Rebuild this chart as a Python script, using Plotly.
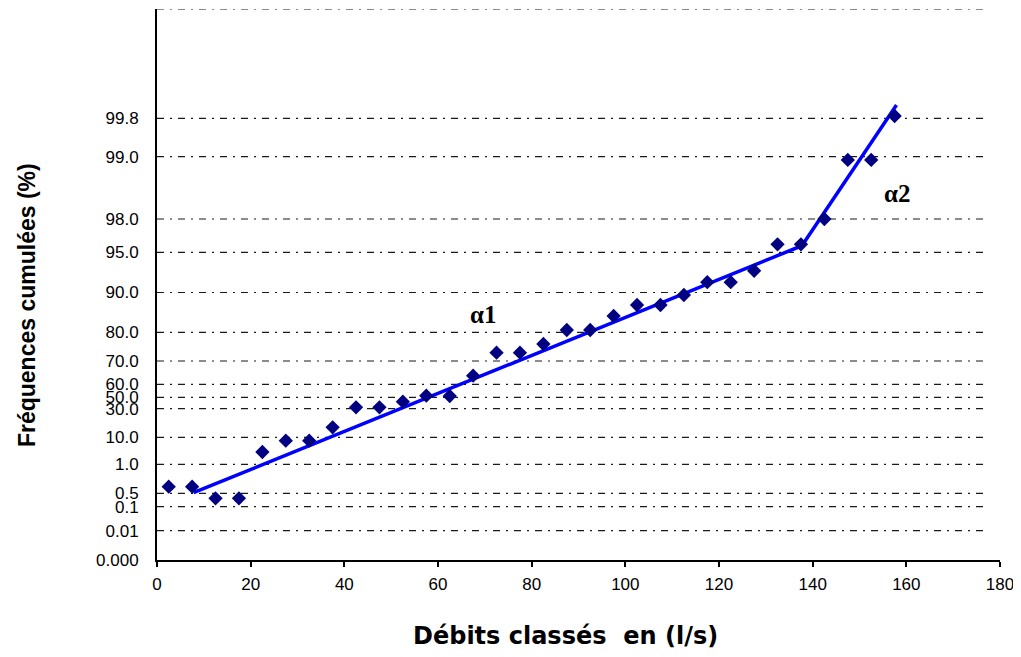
import plotly.graph_objects as go

# Class midpoints of flows (l/s)
debits = [2.5, 7.5, 12.5, 17.5, 22.5, 27.5, 32.5, 37.5, 42.5, 47.5, 52.5, 57.5,
          62.5, 67.5, 72.5, 77.5, 82.5, 87.5, 92.5, 97.5, 102.5, 107.5, 112.5,
          117.5, 122.5, 127.5, 132.5, 137.5, 142.5, 147.5, 152.5, 157.5]
# Position on the probability (reduced-variable) scale, 0-100 axis units
freq_reduite = [13.30, 13.30, 11.20, 11.20, 19.60, 21.65, 21.65, 24.08, 27.71, 27.71,
                28.73, 29.82, 29.76, 33.45, 37.62, 37.62, 39.20, 41.74, 41.74, 44.28,
                46.28, 46.28, 48.09, 50.42, 50.42, 52.50, 57.30, 57.30, 61.89, 72.60,
                72.60, 80.58]

# Two fitted straight segments (alpha1, alpha2)
fit_x = [7.8, 137.7, 157.9]
fit_y = [12.21, 57.04, 82.58]

# Probability-scale tick labels and their positions on the reduced axis
y_tick_labels = ["0.000", "0.01", "0.1", "0.5", "1.0", "10.0", "30.0", "50.0", "60.0",
                 "70.0", "80.0", "90.0", "95.0", "98.0", "99.0", "99.8", ""]
y_tick_pos = [0, 5.32, 9.67, 12.10, 17.37, 22.27, 27.46, 29.53, 31.89,
              36.12, 41.32, 48.55, 55.84, 61.89, 73.19, 80.16, 100]

x_ticks = [0, 20, 40, 60, 80, 100, 120, 140, 160, 180]

fig = go.Figure()

# dash-dot gridlines
grid_end = 176.4
for p in y_tick_pos[1:]:
    fig.add_shape(type="line", xref="x", yref="y", x0=0, x1=grid_end, y0=p, y1=p,
                  line=dict(color="#1a1a1a", width=1.2, dash="7px,6px,2px,6px"),
                  layer="below")

fig.add_trace(go.Scatter(x=fit_x, y=fit_y, mode="lines",
                         line=dict(color="#0000FF", width=3.5),
                         showlegend=False, hoverinfo="skip"))
fig.add_trace(go.Scatter(x=debits, y=freq_reduite, mode="markers",
                         marker=dict(symbol="diamond", size=11, color="#000080"),
                         showlegend=False))

fig.add_annotation(x=69.6, y=44.6, text="<b>α1</b>", showarrow=False,
                   font=dict(family="Liberation Serif", size=25, color="black"))
fig.add_annotation(x=158, y=66.55, text="<b>α2</b>", showarrow=False,
                   font=dict(family="Liberation Serif", size=25, color="black"))

fig.add_annotation(xref="paper", yref="paper", x=-0.154, y=0.463,
                   text="<b>Fréquences cumulées (%)</b>", textangle=-90,
                   showarrow=False, xanchor="center", yanchor="middle",
                   font=dict(family="Liberation Sans", size=23, color="black"))
fig.add_annotation(xref="paper", yref="paper", x=0.484, y=-0.138,
                   text="<b>Débits classés&nbsp; en (l/s)</b>",
                   showarrow=False, xanchor="center", yanchor="middle",
                   font=dict(family="DejaVu Sans", size=24, color="black"))

# The page body adds an 8px offset, so the figure is sized to the remaining area
fig.update_layout(
    width=1013, height=649,
    margin=dict(l=149, r=21, t=1, b=97),
    plot_bgcolor="white", paper_bgcolor="white",
    xaxis=dict(range=[0, 180], tickvals=x_ticks, showgrid=False, zeroline=False,
               showline=True, linecolor="black", linewidth=2,
               ticks="outside", ticklen=5, tickcolor="black", tickwidth=1.5,
               ticklabelstandoff=3,
               tickfont=dict(family="Liberation Sans", size=17, color="black")),
    yaxis=dict(range=[0, 100], tickvals=y_tick_pos, ticktext=y_tick_labels,
               showgrid=False, zeroline=False, showline=True, linecolor="black",
               linewidth=2, ticks="", ticklabelstandoff=13,
               tickfont=dict(family="Liberation Sans", size=17, color="black")),
)

fig.write_html("out.html")
